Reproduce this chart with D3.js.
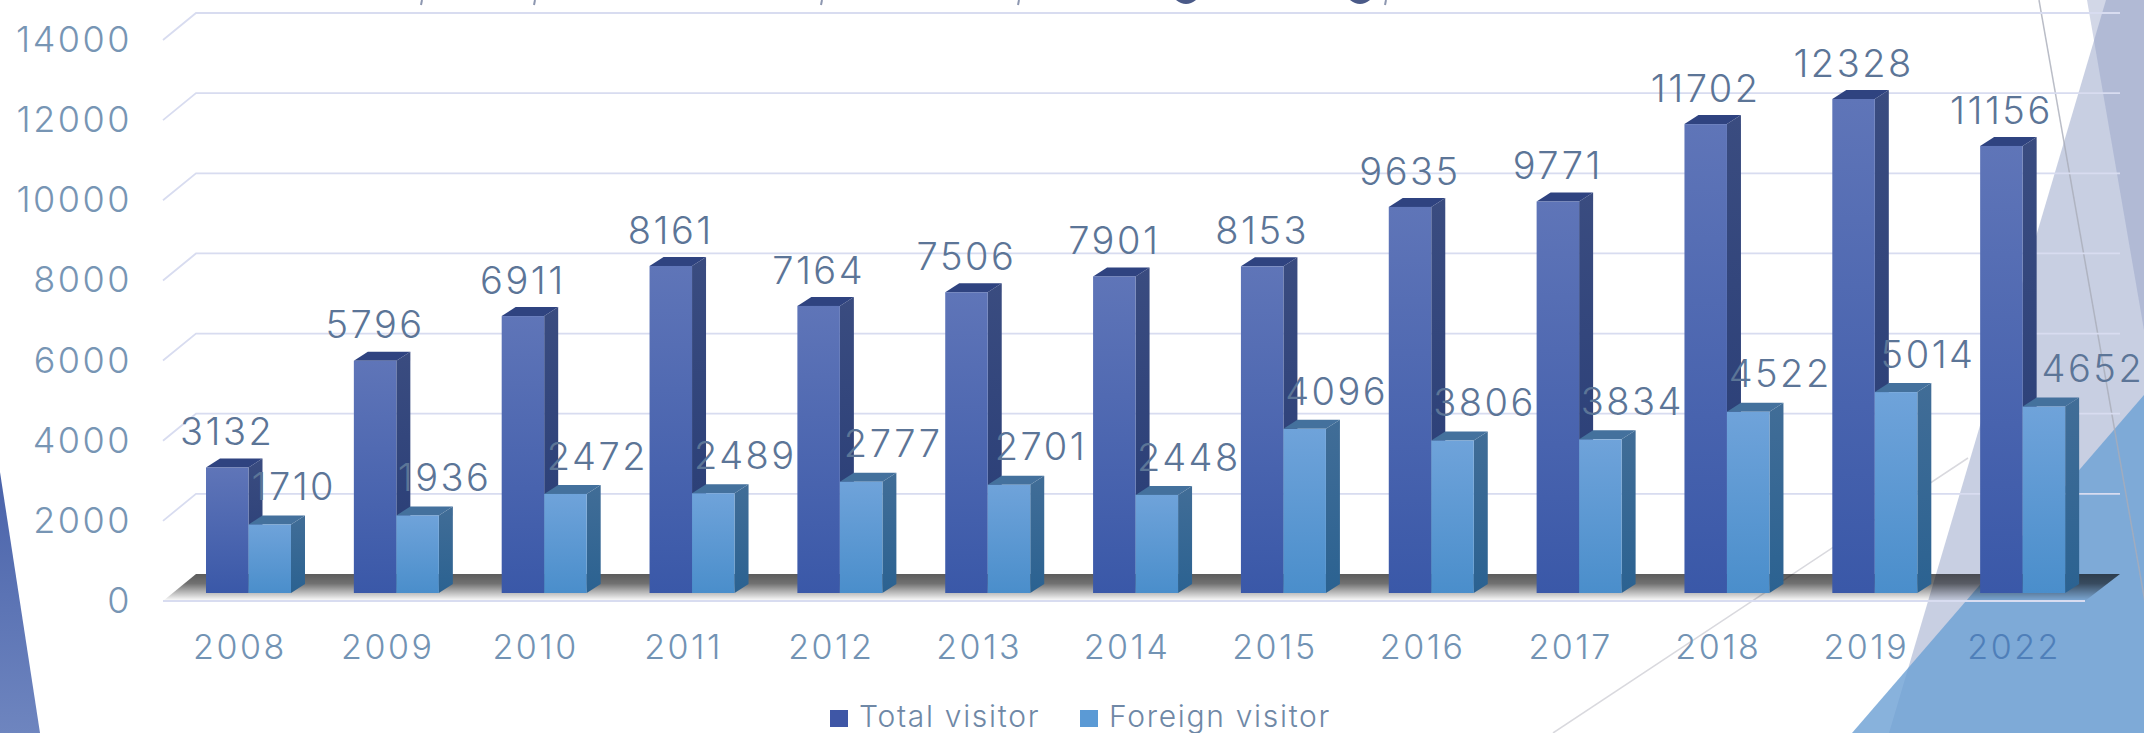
<!DOCTYPE html>
<html>
<head>
<meta charset="utf-8">
<title>Visitors</title>
<script src="https://cdn.jsdelivr.net/npm/d3@7"></script>
<style>
    html, body { margin: 0; padding: 0; background: #fff; overflow: hidden; }
    svg { display: block; }
    text { font-family: Inter, "Open Sans", sans-serif; font-weight: 300; }
</style>
</head>
<body>
<div id="visualization"></div>
<script>
// data
const years = ["2008", "2009", "2010", "2011", "2012", "2013", "2014", "2015", "2016", "2017", "2018", "2019", "2022"];
const totalVisitor = [3132, 5796, 6911, 8161, 7164, 7506, 7901, 8153, 9635, 9771, 11702, 12328, 11156];
const foreignVisitor = [1710, 1936, 2472, 2489, 2777, 2701, 2448, 4096, 3806, 3834, 4522, 5014, 4652];
const yTicks = [0, 2000, 4000, 6000, 8000, 10000, 12000, 14000];
const seriesNames = ["Total visitor", "Foreign visitor"];

const width = 2144;
const height = 733;

const svg = d3.select("#visualization")
    .append("svg")
    .attr("width", width)
    .attr("height", height);

const defs = svg.append("defs");

function addGradient(id, stops) {
    const gradient = defs.append("linearGradient")
        .attr("id", id)
        .attr("x1", "0%")
        .attr("y1", "0%")
        .attr("x2", "0%")
        .attr("y2", "100%");
    gradient.selectAll("stop")
        .data(stops)
        .enter()
        .append("stop")
        .attr("offset", d => d[0])
        .attr("stop-color", d => d[1])
        .attr("stop-opacity", d => d[2] === undefined ? 1 : d[2]);
}

addGradient("total-front", [[0, "#5f75b8"], [1, "#3a58a8"]]);
addGradient("total-side", [[0, "#3a4c80"], [1, "#263b75"]]);
addGradient("foreign-front", [[0, "#6fa3da"], [1, "#4a8ecb"]]);
addGradient("foreign-side", [[0, "#416d97"], [1, "#2b6291"]]);
addGradient("floor", [[0, "#000", 0.64], [0.35, "#000", 0.56], [1, "#000", 0]]);
addGradient("left-shape", [[0, "#4a63aa"], [1, "#6e85bf"]]);

// background shapes from the slide theme
const bg = svg.append("g").attr("class", "background");
const shapeLine = d3.line();

bg.append("path")
    .attr("d", shapeLine([[0, 472], [40, 733], [0, 733]]) + "Z")
    .attr("fill", "url(#left-shape)");
bg.append("path")
    .attr("d", shapeLine([[2106, 0], [2144, 0], [2144, 733], [1889, 733]]) + "Z")
    .attr("fill", "#919fc5")
    .attr("opacity", 0.5);
bg.append("path")
    .attr("d", shapeLine([[2087, 0], [2144, 0], [2144, 330]]) + "Z")
    .attr("fill", "#8e9bc3")
    .attr("opacity", 0.4);
bg.append("path")
    .attr("d", shapeLine([[1553, 733], [1968, 458]]))
    .attr("stroke", "#d9d9de")
    .attr("stroke-width", 1.5)
    .attr("fill", "none");
bg.append("path")
    .attr("d", shapeLine([[1852, 733], [2144, 395], [2144, 733]]) + "Z")
    .attr("fill", "#6ea1d4")
    .attr("opacity", 0.82);
bg.append("path")
    .attr("d", shapeLine([[2039, 0], [2168, 733]]))
    .attr("stroke", "#a9adb9")
    .attr("stroke-width", 1.5)
    .attr("fill", "none")
    .attr("opacity", 0.8);

// bottom edge of the slide title, the crop leaves only specks of it
const titleCommaX = [422, 535, 822, 1019, 1386];
const titleHookX = [1186, 1360];
const titleMarks = svg.append("g").attr("class", "title-marks");
titleMarks.selectAll("line")
    .data(titleCommaX)
    .enter()
    .append("line")
    .attr("x1", d => d)
    .attr("x2", d => d - 1)
    .attr("y1", 0)
    .attr("y2", 5)
    .attr("stroke", "#8d97b0")
    .attr("stroke-width", 2);
titleMarks.selectAll("path")
    .data(titleHookX)
    .enter()
    .append("path")
    .attr("d", d => `M${d - 10},0 Q${d},8 ${d + 10},0 Z`)
    .attr("fill", "#4a5a88");

// scales
const x = d3.scaleBand().domain(years).range([163, 2085]);
const xSeries = d3.scaleBand().domain(seriesNames).range([43, 128]);
const y = d3.scaleLinear().domain([0, 14000]).range([593, 32]);

// the 3d box: back wall sits up and right of the bars, axis sits in front
const backX = 196;
const backRight = 2120;
const backShift = -19;
const frontShift = 8;
const barDx = 14;
const barDy = 9;

const grid = svg.append("g").attr("class", "grid");

grid.selectAll("path")
    .data(yTicks.slice(1))
    .enter()
    .append("path")
    .attr("d", d => shapeLine([
        [x.range()[0], y(d) + frontShift],
        [backX, y(d) + backShift],
        [backRight, y(d) + backShift]
    ]))
    .attr("fill", "none")
    .attr("stroke", "#d8dcf0")
    .attr("stroke-width", 1.8);

// floor
grid.append("path")
    .attr("d", shapeLine([
        [backX, y(0) + backShift],
        [backRight, y(0) + backShift],
        [x.range()[1], y(0) + frontShift],
        [x.range()[0], y(0) + frontShift]
    ]) + "Z")
    .attr("fill", "url(#floor)");
grid.append("path")
    .attr("d", shapeLine([
        [x.range()[1], y(0) + frontShift],
        [x.range()[0], y(0) + frontShift]
    ]))
    .attr("fill", "none")
    .attr("stroke", "#d8dcf0")
    .attr("stroke-width", 1.8);

// one 3d bar: side, top, then front
function drawBar(g, left, value, prefix, topColor) {
    const w = xSeries.bandwidth();
    const top = y(value);
    const base = y(0);
    g.append("path")
        .attr("d", shapeLine([
            [left + w, top],
            [left + w + barDx, top - barDy],
            [left + w + barDx, base - barDy],
            [left + w, base]
        ]) + "Z")
        .attr("fill", `url(#${prefix}-side)`);
    g.append("path")
        .attr("d", shapeLine([
            [left, top],
            [left + barDx, top - barDy],
            [left + w + barDx, top - barDy],
            [left + w, top]
        ]) + "Z")
        .attr("fill", topColor);
    g.append("rect")
        .attr("x", left)
        .attr("y", top)
        .attr("width", w)
        .attr("height", base - top)
        .attr("fill", `url(#${prefix}-front)`);
}

const bars = svg.append("g").attr("class", "bars");

years.forEach((year, i) => {
    const g = bars.append("g");
    drawBar(g, x(year) + xSeries(seriesNames[0]), totalVisitor[i], "total", "#2f4380");
    drawBar(g, x(year) + xSeries(seriesNames[1]), foreignVisitor[i], "foreign", "#44719d");
});

// value labels
const labelColor = "#5c7597";
const foreignLabelNudge = { "2008": -8, "2009": -5, "2022": 17 };

const labels = svg.append("g").attr("class", "labels")
    .attr("font-size", 38)
    .attr("text-anchor", "middle")
    .attr("fill", labelColor)
    .style("letter-spacing", "2.5px");

labels.selectAll("text.total")
    .data(totalVisitor)
    .enter()
    .append("text")
    .attr("class", "total")
    .attr("x", (d, i) => x(years[i]) + xSeries(seriesNames[0]) + xSeries.bandwidth() / 2)
    .attr("y", d => y(d) - 36)
    .attr("dy", "0.36em")
    .text(d => d);

labels.selectAll("text.foreign")
    .data(foreignVisitor)
    .enter()
    .append("text")
    .attr("class", "foreign")
    .attr("x", (d, i) => x(years[i]) + xSeries(seriesNames[1]) + xSeries.bandwidth() / 2 + 32 + (foreignLabelNudge[years[i]] || 0))
    .attr("y", d => y(d) - 38)
    .attr("dy", "0.36em")
    .text(d => d);

// axes
const yFront = y.copy().range(y.range().map(d => d + frontShift));
const yAxis = d3.axisLeft(yFront)
    .tickValues(yTicks)
    .tickFormat(d => d)
    .tickSize(0)
    .tickPadding(0);

const yAxisG = svg.append("g")
    .attr("transform", "translate(132,0)")
    .call(yAxis);
yAxisG.select(".domain").remove();
yAxisG.selectAll("text")
    .attr("font-size", 36)
    .attr("fill", "#7795b4")
    .style("letter-spacing", "2.5px");

const xAxis = d3.axisBottom(x)
    .tickSize(0)
    .tickPadding(0);

const xAxisG = svg.append("g")
    .attr("transform", "translate(3,634)")
    .call(xAxis);
xAxisG.select(".domain").remove();
xAxisG.selectAll("text")
    .attr("font-size", 34)
    .attr("dy", "0.36em")
    .attr("y", 13)
    .attr("fill", d => d === "2022" ? "#4f7fb9" : "#7293b4")
    .style("letter-spacing", "2.5px");

// legend
const legendX = [830, 1080];
const legendColors = ["#3f57a6", "#5b9ad5"];
const legend = svg.append("g").attr("class", "legend");

seriesNames.forEach((name, i) => {
    legend.append("rect")
        .attr("x", legendX[i])
        .attr("y", 710)
        .attr("width", 18)
        .attr("height", 17)
        .attr("fill", legendColors[i]);
    legend.append("text")
        .attr("x", legendX[i] + 29)
        .attr("y", 727)
        .attr("font-size", 30)
        .attr("fill", "#6f88a6")
        .style("letter-spacing", "1.7px")
        .text(name);
});
</script>
</body>
</html>
